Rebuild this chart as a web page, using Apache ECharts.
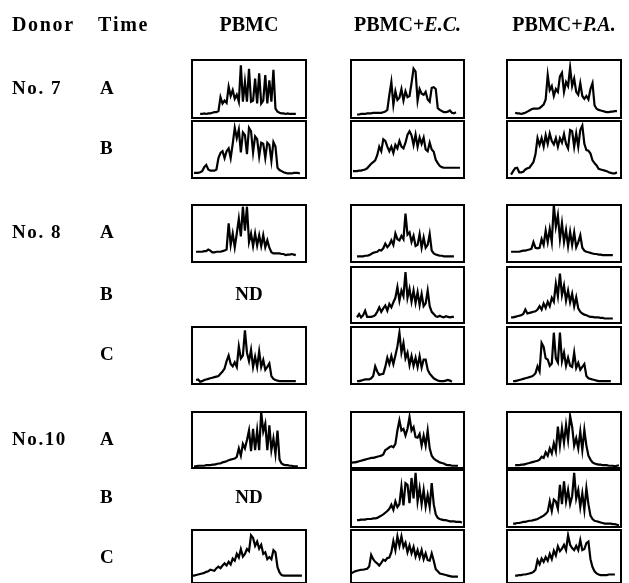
<!DOCTYPE html>
<html><head><meta charset="utf-8">
<script src="https://cdn.jsdelivr.net/npm/echarts@6/dist/echarts.min.js"></script>
<style>html,body{margin:0;padding:0;background:#fff}#c{width:629px;height:583px}</style>
</head><body><div id="c"></div>
<script>
// ---- text ----
const headerDonor = 'Donor';
const headerTime = 'Time';
const columnHeads = [['PBMC', ''], ['PBMC+', 'E.C.'], ['PBMC+', 'P.A.']];
const donorLabels = ['No. 7', 'No. 8', 'No.10'];
const timeLabels = ['A', 'B', 'A', 'B', 'C', 'A', 'B', 'C'];
const ndText = 'ND';

// ---- spectratype traces (relative signal, 0-100 of panel height; sample index = fragment position) ----
const n7A_PBMC = [null,null,null,null, 7,7,8,7,8,8,9,10,10,12, 36,25,30,26,54,38,48,33,40,28, 91,28,62,28,85,28,30,68,25,77, 25,30,74,25,65,28,83,16,11,9, 8,8,7,8,7,7,7,7];
const n7A_EC = [null,null,null, 6,6,7,7,7,8,8, 8,9,9,9,9,9,10,11,14,40, 62,23,46,31,35,50,30,46,36,38, 60,85,80,30,50,42,40,45,32,28, 52,53,50,17,14,12,10,10,11,13, 9,8,10];
const n7A_PA = [null,null,null,null, 9,8,8,7,8,9, 11,13,15,16,16,16,17,20,23,32, 74,48,55,38,50,45,72,78,45,62, 55,87,55,68,45,40,60,38,33,38, 32,50,60,22,16,14,13,12,11,10, 10,11,11,12,12];
const n7B_PBMC = [null, 9,9,9,10,12,19,23,15,13, 13,13,15,35,44,47,35,47,52,35, 60,88,70,85,45,80,75,42,88,82, 45,73,68,38,62,60,35,62,58,30, 63,55,18,14,12,10,9,8,8,8, 9,9,9,8];
const n7B_EC = [null, 12,12,12,13,13,14,15,17,21, 25,28,31,40,55,47,68,65,55,47, 55,44,58,52,65,55,52,62,76,82, 75,58,76,55,71,60,71,50,47,62, 50,46,32,26,21,19,18,18,18,18, 18,18,18,18,18];
const n7B_PA = [null,null, 6,12,17,18,10,10,11,15, 17,18,23,28,42,70,58,70,55,75, 60,78,65,59,70,55,70,62,77,60, 52,84,82,55,78,55,84,92,60,49, 48,43,31,26,22,16,15,14,13,12, 10,9,8,8,10];
const n8A_PBMC = [null,null, 18,18,18,18,19,19,22,20, 17,17,18,18,18,19,20,22,68,30, 50,26,50,76,45,97,55,97,35,50, 28,50,29,47,28,47,26,38,25,17, 15,15,15,15,14,14,12,13,13,14, 13,12];
const n8A_EC = [null,null,null, 10,10,10,10,11,11,12, 14,16,17,18,21,20,24,32,26,30, 38,30,50,40,38,46,40,85,48,52, 35,46,28,30,49,25,43,25,30,49, 20,15,13,12,11,11,10,10,10,10, 10,10];
const n8A_PA = [null,null, 18,18,18,18,18,19,20,20, 21,22,23,35,25,24,25,40,30,55, 35,58,35,100,62,82,40,68,35,56, 28,53,30,52,26,35,47,25,20,18, 17,16,15,14,14,13,13,12,12,12, 12,12,12];
const n8B_EC = [null,null,null, 10,16,10,14,22,11,11, 11,12,14,20,28,20,26,31,22,34, 28,37,45,64,40,58,48,91,45,61, 38,58,36,55,32,52,30,35,58,30, 20,16,12,11,13,11,10,12,11,10, 11,11];
const n8B_PA = [null,null, 10,10,11,12,13,14,16,24, 17,18,19,20,21,24,30,24,35,27, 38,30,45,38,70,48,88,50,67,40, 58,37,52,30,46,26,20,17,15,14, 12,11,11,10,10,10,9,9,8,8, 8,8,8];
const n8C_PBMC = [null,null, 7,8,4,5,7,8,9,10, 11,12,13,14,18,22,27,40,50,35, 31,38,30,66,45,50,94,55,40,60, 30,48,30,57,30,42,25,30,36,14, 9,7,6,5,5,5,5,5,5,5, 5,5];
const n8C_EC = [null,null,null, 5,5,6,7,8,8,8, 10,14,31,22,16,17,18,30,46,35, 49,35,50,66,90,55,72,45,55,33, 49,32,46,30,49,29,43,43,25,18, 14,10,8,6,5,5,5,6,7,6, 4];
const n8C_PA = [null,null,null, 5,5,6,7,8,9,10, 11,12,13,15,19,31,22,72,65,45, 43,32,36,90,45,38,90,40,55,32, 46,32,30,55,28,37,25,30,35,14, 10,9,8,7,6,5,5,5,5,5, 5,5];
const n10A_PBMC = [null, 3,3,4,4,4,4,5,5,5, 6,6,7,8,8,10,11,12,14,15, 16,17,20,35,22,43,35,50,67,30, 70,32,67,32,100,65,79,32,76,32, 53,25,67,15,8,6,5,5,4,4, 3,3,3];
const n10A_EC = [9,10,10,11,12,13,14,15,16,17, 18,18,19,20,21,22,24,32,34,37, 39,37,43,67,85,67,70,58,70,91, 67,73,55,54,61,40,58,40,67,35, 22,17,14,12,10,9,8,6,5,5, 4,4,4,4];
const n10A_PA = [null,null,null,null, 5,5,5,6,6,7, 8,9,10,11,12,13,15,20,18,28, 22,35,26,44,30,74,40,71,45,77, 50,93,74,40,53,35,65,32,68,40, 22,15,10,8,7,6,6,5,5,5, 4,4,4,3,4,5];
const n10B_EC = [null,null,null, 12,12,13,13,13,14,14, 14,15,15,16,18,20,22,25,28,32, 39,30,45,35,40,71,38,77,74,42, 86,50,95,45,68,40,65,36,56,35, 77,40,22,16,14,13,12,12,11,10, 10,10,9,9,9,8];
const n10B_PA = [null,null,null, 6,6,7,7,8,9,9, 10,11,11,12,13,14,16,18,20,23, 27,45,28,48,45,32,74,40,80,45, 65,40,54,95,50,65,35,59,30,68, 40,20,14,11,10,9,8,7,6,6, 6,6,5,5,4,3];
const n10C_PBMC = [14,14,15,16,17,18,19,21,22,25, 24,23,28,31,28,33,37,33,40,35, 46,42,55,48,64,50,55,64,60,90, 85,70,78,65,72,55,58,45,49,45, 62,58,30,20,15,14,14,14,14,14, 14,14,14,14,14];
const n10C_EC = [18,20,22,23,24,25,25,26,27,31, 53,45,40,37,33,38,44,42,47,48, 58,79,62,88,70,88,68,76,58,71, 56,68,50,62,48,62,45,56,43,42, 56,42,26,22,18,17,16,15,14,13, 12,12,12,12];
const n10C_PA = [null,null,null,null, 14,14,15,15,16,16, 17,18,19,21,25,43,35,46,40,49, 42,55,45,61,52,69,60,65,72,62, 90,72,66,62,70,62,81,62,64,75, 78,45,30,22,18,16,15,15,15,15, 16,16,16,16];

// rows x columns; null = not determined (ND)
const table = [
  [n7A_PBMC, n7A_EC, n7A_PA],
  [n7B_PBMC, n7B_EC, n7B_PA],
  [n8A_PBMC, n8A_EC, n8A_PA],
  [null, n8B_EC, n8B_PA],
  [n8C_PBMC, n8C_EC, n8C_PA],
  [n10A_PBMC, n10A_EC, n10A_PA],
  [null, n10B_EC, n10B_PA],
  [n10C_PBMC, n10C_EC, n10C_PA]
];
const donorRows = [0, 2, 5];

// ---- layout ----
const NS = 57;
const rowTop = [60, 121, 205, 267, 327, 412, 470, 530];
const rowH = [58, 57, 57, 56, 57, 56, 57, 57];
const colLeft = [192, 351, 507];
const colW = [114, 113, 114];
const FONT = '"Liberation Serif","Times New Roman",serif';

const cats = Array.from({length: NS}, (_, i) => i);
const grids = [], xAxes = [], yAxes = [], series = [], graphics = [];
let gi = 0;
table.forEach((row, r) => {
  row.forEach((d, c) => {
    if (!d) return;
    grids.push({left: colLeft[c], top: rowTop[r], width: colW[c], height: rowH[r],
      show: true, borderColor: '#000', borderWidth: 2, containLabel: false});
    xAxes.push({gridIndex: gi, type: 'category', data: cats, boundaryGap: false, show: false});
    yAxes.push({gridIndex: gi, type: 'value', min: 0, max: 100, show: false});
    const full = cats.map(i => (i < d.length ? d[i] : null));
    series.push({type: 'line', xAxisIndex: gi, yAxisIndex: gi, data: full, symbol: 'none',
      connectNulls: false, silent: true, animation: false,
      lineStyle: {color: '#000', width: 2.2, join: 'miter'}});
    gi++;
  });
});

const spaced = s => s.split('').join('\u200A');
const hy = 26;
graphics.push({type: 'text', x: 12, y: hy, style: {text: spaced(headerDonor), font: 'bold 20px ' + FONT, fill: '#000', align: 'left', verticalAlign: 'middle'}});
graphics.push({type: 'text', x: 98, y: hy, style: {text: spaced(headerTime), font: 'bold 20px ' + FONT, fill: '#000', align: 'left', verticalAlign: 'middle'}});
columnHeads.forEach((h, c) => {
  graphics.push({type: 'text', x: colLeft[c] + colW[c] / 2, y: hy, style: {
    text: '{a|' + h[0] + '}' + (h[1] ? '{b|' + h[1] + '}' : ''),
    align: 'center', verticalAlign: 'middle', fill: '#000',
    rich: {a: {fontFamily: FONT, fontWeight: 'bold', fontSize: 20, fill: '#000'},
           b: {fontFamily: FONT, fontWeight: 'bold', fontStyle: 'italic', fontSize: 20, fill: '#000'}}}});
});
donorRows.forEach((r, k) => {
  graphics.push({type: 'text', x: 12, y: rowTop[r] + rowH[r] / 2, style: {text: spaced(donorLabels[k]), font: 'bold 19px ' + FONT, fill: '#000', align: 'left', verticalAlign: 'middle'}});
});
timeLabels.forEach((t, r) => {
  graphics.push({type: 'text', x: 100, y: rowTop[r] + rowH[r] / 2, style: {text: t, font: 'bold 19px ' + FONT, fill: '#000', align: 'left', verticalAlign: 'middle'}});
});
table.forEach((row, r) => {
  row.forEach((d, c) => {
    if (d) return;
    graphics.push({type: 'text', x: colLeft[c] + colW[c] / 2, y: rowTop[r] + rowH[r] / 2, style: {text: ndText, font: 'bold 19px ' + FONT, fill: '#000', align: 'center', verticalAlign: 'middle'}});
  });
});

const chart = echarts.init(document.getElementById('c'), null, {renderer: 'canvas'});
chart.setOption({animation: false, backgroundColor: '#fff', grid: grids, xAxis: xAxes, yAxis: yAxes, series: series, graphic: graphics});
</script></body></html>
